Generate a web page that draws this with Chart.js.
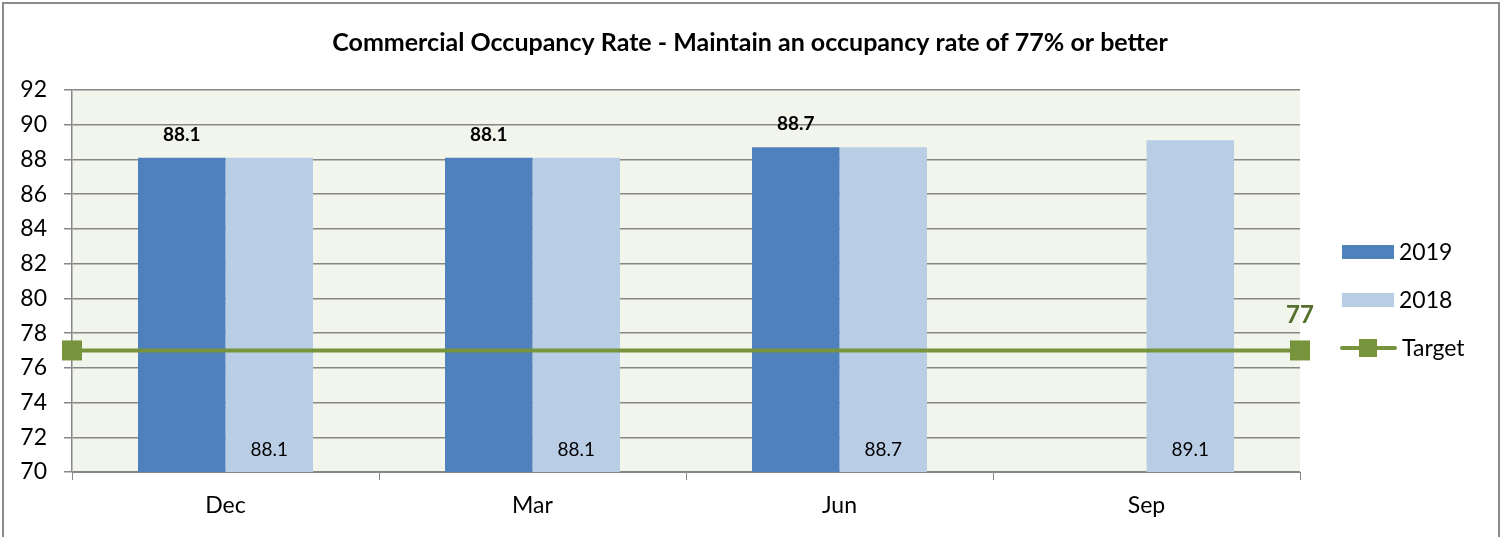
<!DOCTYPE html>
<html lang="en">
<head>
    <meta charset="UTF-8">
    <title>Commercial Occupancy Rate</title>
    <script src="https://cdn.jsdelivr.net/npm/chart.js"></script>
    <style>
        html, body { margin: 0; padding: 0; background: #ffffff; }
        #wrap { position: relative; width: 1503px; height: 537px; }
    </style>
</head>
<body>
    <div id="wrap">
        <canvas id="occChart" width="1503" height="537"></canvas>
    </div>

    <script>
        // Datos
        const months = ['Dec', 'Mar', 'Jun', 'Sep'];
        const rate2019 = [88.1, 88.1, 88.7, null];
        const rate2018 = [88.1, 88.1, 88.7, 89.1];
        const targetValue = 77;
        const chartTitle = 'Commercial Occupancy Rate - Maintain an occupancy rate of 77% or better';

        const FONT = 'Lato, "Noto Sans", sans-serif';
        const C2019 = '#4F81BD';
        const C2018 = '#B9CDE5';
        const CTARGET = '#77933C';

        // Fondo y borde del grafico
        const background = {
            id: 'background',
            beforeDraw(chart) {
                const ctx = chart.ctx;
                const a = chart.chartArea;
                ctx.save();
                ctx.fillStyle = '#ffffff';
                ctx.fillRect(0, 0, chart.width, chart.height);
                ctx.fillStyle = '#F2F5EC';
                ctx.fillRect(a.left, a.top, a.right - a.left, a.bottom - a.top);
                ctx.strokeStyle = '#8c8c8c';
                ctx.lineWidth = 2;
                ctx.strokeRect(3, 3, chart.width - 7, chart.height + 10);
                ctx.restore();
            }
        };

        // Linea objetivo a todo lo ancho del area, con la escala y
        const targetLine = {
            id: 'targetLine',
            afterDatasetsDraw(chart) {
                const ctx = chart.ctx;
                const a = chart.chartArea;
                const y = chart.scales.y.getPixelForValue(targetValue);
                ctx.save();
                ctx.strokeStyle = CTARGET;
                ctx.lineWidth = 4;
                ctx.beginPath();
                ctx.moveTo(a.left, y);
                ctx.lineTo(a.right, y);
                ctx.stroke();
                ctx.fillStyle = CTARGET;
                [a.left, a.right].forEach(x => ctx.fillRect(x - 10, y - 10, 20, 20));

                ctx.fillStyle = '#55702C';
                ctx.font = 'bold 24px ' + FONT;
                ctx.textAlign = 'center';
                ctx.textBaseline = 'middle';
                ctx.fillText(String(targetValue), a.right, y - 35);
                ctx.restore();
            }
        };

        // Titulo, etiquetas de barras y leyenda
        const labels = {
            id: 'labels',
            afterDraw(chart) {
                const ctx = chart.ctx;
                const bottom = chart.scales.y.getPixelForValue(chart.scales.y.min);
                ctx.save();
                ctx.textAlign = 'center';
                ctx.textBaseline = 'middle';

                ctx.fillStyle = '#000';
                ctx.font = 'bold 25px ' + FONT;
                ctx.fillText(chartTitle, 750, 43);

                const m0 = chart.getDatasetMeta(0);
                const m1 = chart.getDatasetMeta(1);
                ctx.font = 'bold 19px ' + FONT;
                m0.data.forEach((bar, i) => {
                    if (rate2019[i] == null) return;
                    ctx.fillText(rate2019[i].toFixed(1), bar.x, bar.y - 23);
                });
                ctx.font = '19px ' + FONT;
                m1.data.forEach((bar, i) => {
                    if (rate2018[i] == null) return;
                    ctx.fillText(rate2018[i].toFixed(1), bar.x, bottom - 22);
                });

                // leyenda
                ctx.textAlign = 'left';
                ctx.font = '23px ' + FONT;
                const lx = 1342;
                const items = [
                    { label: '2019', color: C2019, y: 252 },
                    { label: '2018', color: C2018, y: 300 }
                ];
                items.forEach(it => {
                    ctx.fillStyle = it.color;
                    ctx.fillRect(lx, it.y - 7, 52, 14);
                    ctx.fillStyle = '#000';
                    ctx.fillText(it.label, lx + 57, it.y + 1);
                });
                ctx.strokeStyle = CTARGET;
                ctx.lineWidth = 4;
                ctx.lineCap = 'round';
                ctx.beginPath();
                ctx.moveTo(lx, 348);
                ctx.lineTo(lx + 53, 348);
                ctx.stroke();
                ctx.fillStyle = CTARGET;
                ctx.fillRect(lx + 17, 339, 18, 18);
                ctx.fillStyle = '#000';
                ctx.fillText('Target', lx + 60, 349);
                ctx.restore();
            }
        };

        new Chart(document.getElementById('occChart'), {
            type: 'bar',
            data: {
                labels: months,
                datasets: [
                    {
                        label: '2019',
                        data: rate2019,
                        backgroundColor: C2019,
                        categoryPercentage: 0.57,
                        barPercentage: 1.0
                    },
                    {
                        label: '2018',
                        data: rate2018,
                        backgroundColor: C2018,
                        categoryPercentage: 0.57,
                        barPercentage: 1.0
                    }
                ]
            },
            options: {
                responsive: false,
                animation: false,
                layout: { padding: { left: 0, right: 203, top: 90, bottom: 0 } },
                plugins: {
                    legend: { display: false },
                    title: { display: false },
                    tooltip: { enabled: false }
                },
                scales: {
                    x: {
                        type: 'category',
                        offset: true,
                        grid: {
                            offset: true,
                            drawOnChartArea: false,
                            tickLength: 8,
                            color: '#878787'
                        },
                        border: { display: true, color: '#878787' },
                        ticks: {
                            color: '#000',
                            padding: 12,
                            font: { family: FONT, size: 23 }
                        },
                        afterFit(s) { s.height = 65; }
                    },
                    y: {
                        min: 70,
                        max: 92,
                        ticks: {
                            stepSize: 2,
                            color: '#000',
                            padding: 17,
                            font: { family: FONT, size: 23 }
                        },
                        grid: {
                            color: '#878787',
                            lineWidth: 1.5,
                            tickLength: 8
                        },
                        border: { display: true, color: '#878787', width: 1.5 },
                        afterFit(s) { s.width = 72; }
                    }
                }
            },
            plugins: [background, targetLine, labels]
        });
    </script>
</body>
</html>
